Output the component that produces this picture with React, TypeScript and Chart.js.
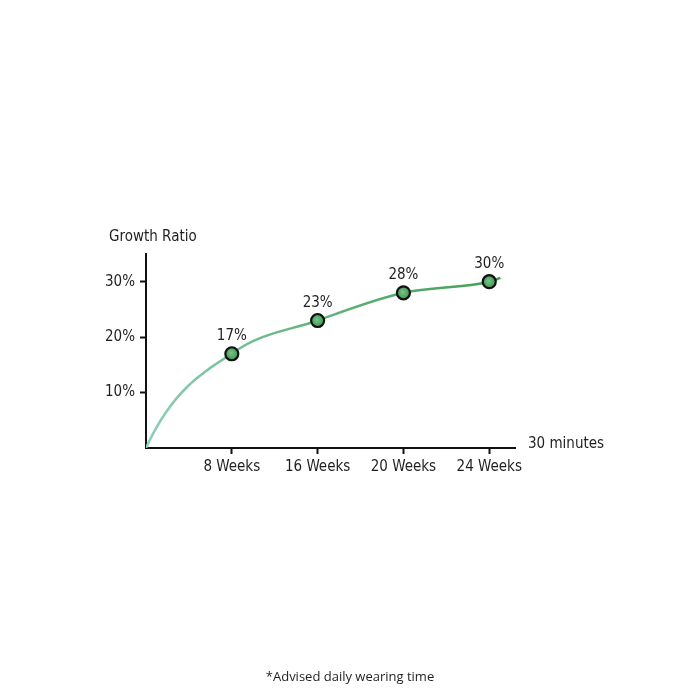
import React, { useEffect, useRef } from "react";
import { Chart, registerables } from "chart.js";

Chart.register(...registerables);

// Data
const weekLabels = ["8 Weeks", "16 Weeks", "20 Weeks", "24 Weeks"];
const xPositions = [0, 1, 2, 3, 4, 4.13];
const growthValues = [0, 17, 23, 28, 30, 30.7];
const labelledIdx = [1, 2, 3, 4];
const yTickValues = [10, 20, 30];
const yAxisTitle = "Growth Ratio";
const xAxisTitle = "30 minutes";
const footnote = "*Advised daily wearing time";

const FONT = "'Liberation Sans Narrow', 'DejaVu Sans Condensed', 'Liberation Sans', sans-serif";
const TEXT = "#1f1f1f";

export default function App() {
  const ref = useRef<HTMLCanvasElement | null>(null);

  useEffect(() => {
    document.body.style.margin = "0";
    const canvas = ref.current!;

    // make the start of the curve rise steeply from the origin (concave shape)
    const curvePlugin = {
      id: "curveStart",
      beforeDatasetsDraw(chart: any) {
        const meta = chart.getDatasetMeta(0);
        const line = meta.dataset;
        if (!line) return;
        line.updateControlPoints(chart.chartArea, "x");
        const p0 = meta.data[0];
        const p1 = meta.data[1];
        const dx = p1.x - p0.x;
        const dy = p1.y - p0.y;
        p0.cp2x = p0.x + dx * 0.3;
        p0.cp2y = p0.y + dy * 0.6;
        p1.cp1x = p1.x - dx * 0.35;
        p1.cp1y = p1.y - dy * 0.2;
      },
    };

    const textPlugin = {
      id: "texts",
      afterDraw(chart: any) {
        const ctx = chart.ctx;
        const xs = chart.scales.x;
        const ys = chart.scales.y;
        ctx.save();
        ctx.fillStyle = TEXT;
        ctx.font = `15px ${FONT}`;
        ctx.textAlign = "left";
        ctx.textBaseline = "alphabetic";
        ctx.fillText(yAxisTitle, 109, ys.top - 13);
        ctx.textBaseline = "middle";
        ctx.fillText(xAxisTitle, xs.right + 13, ys.bottom - 4);
        // value labels
        const meta = chart.getDatasetMeta(0);
        ctx.textAlign = "center";
        ctx.textBaseline = "bottom";
        labelledIdx.forEach((i) => {
          const p = meta.data[i];
          ctx.fillText(`${growthValues[i]}%`, p.x, p.y - 10);
        });
        // footnote
        ctx.font = "13px 'Open Sans', 'Noto Sans', sans-serif";
        ctx.textAlign = "center";
        ctx.textBaseline = "middle";
        ctx.fillText(footnote, 350, 677);
        ctx.restore();
      },
    };

    const chart = new Chart(canvas, {
      type: "line",
      data: {
        datasets: [
          {
            data: xPositions.map((x, i) => ({ x, y: growthValues[i] })),
            borderWidth: 2.5,
            borderColor: (c: any) => {
              const ca = c.chart.chartArea;
              if (!ca) return "#5aab6b";
              const g = c.chart.ctx.createLinearGradient(ca.left, 0, ca.right, 0);
              g.addColorStop(0, "#8fd0b6");
              g.addColorStop(0.35, "#6bb888");
              g.addColorStop(1, "#3f9e50");
              return g;
            },
            cubicInterpolationMode: "monotone",
            pointRadius: xPositions.map((_, i) => (labelledIdx.includes(i) ? 6.5 : 0)),
            pointHoverRadius: 0,
            pointBorderWidth: 2.2,
            pointBorderColor: "#111",
            pointBackgroundColor: (c: any) => {
              const el = c.element;
              if (!el || el.x === undefined) return "#52a866";
              const g = c.chart.ctx.createRadialGradient(el.x - 1, el.y - 1, 0, el.x, el.y, 6.5);
              g.addColorStop(0, "#7cc48b");
              g.addColorStop(1, "#3e9852");
              return g;
            },
            fill: false,
          },
        ],
      },
      options: {
        animation: false,
        responsive: false,
        maintainAspectRatio: false,
        layout: { padding: { left: 106, right: 185, top: 254, bottom: 212 } },
        plugins: { legend: { display: false }, tooltip: { enabled: false }, title: { display: false } },
        scales: {
          x: {
            type: "linear",
            min: 0,
            max: 4.3,
            afterFit: (s: any) => { s.height = 40; },
            afterBuildTicks: (s: any) => { s.ticks = weekLabels.map((_, i) => ({ value: i + 1 })); },
            ticks: {
              callback: (v: any) => weekLabels[Number(v) - 1] ?? "",
              color: TEXT,
              font: { family: FONT, size: 15 },
              padding: 4,
              maxRotation: 0,
              autoSkip: false,
            },
            grid: { drawOnChartArea: false, drawTicks: true, tickLength: 6, tickColor: "#111", tickWidth: 2 },
            border: { color: "#111", width: 2 },
          },
          y: {
            type: "linear",
            min: 0,
            max: 35,
            afterFit: (s: any) => { s.width = 40; },
            afterBuildTicks: (s: any) => { s.ticks = yTickValues.map((v) => ({ value: v })); },
            ticks: {
              callback: (v: any) => `${v}%`,
              color: TEXT,
              font: { family: FONT, size: 15 },
              padding: 5,
            },
            grid: { drawOnChartArea: false, drawTicks: true, tickLength: 6, tickColor: "#111", tickWidth: 2 },
            border: { color: "#111", width: 2 },
          },
        },
      },
      plugins: [curvePlugin, textPlugin],
    } as any);
    return () => chart.destroy();
  }, []);

  return (
    <div style={{ position: "absolute", left: 0, top: 0, width: 700, height: 700, background: "#fff" }}>
      <canvas ref={ref} width={700} height={700} style={{ width: 700, height: 700, display: "block" }} />
    </div>
  );
}
